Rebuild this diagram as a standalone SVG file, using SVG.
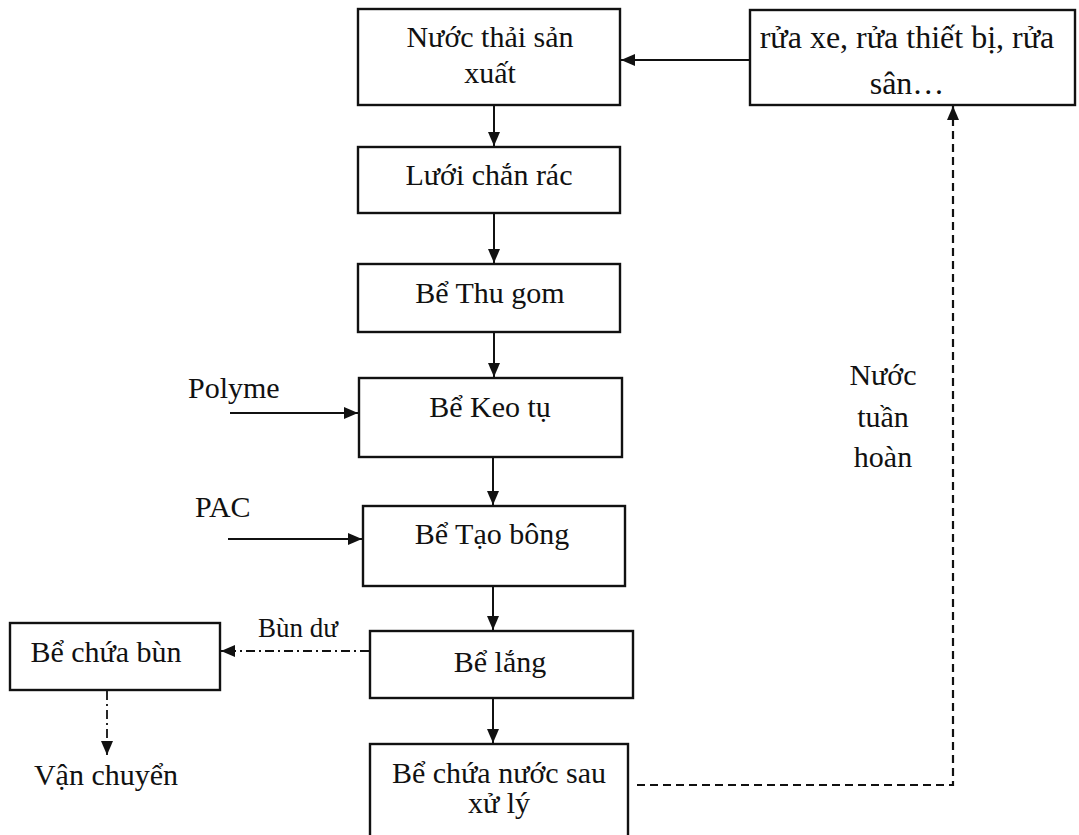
<svg xmlns="http://www.w3.org/2000/svg" width="1079" height="835" viewBox="0 0 1079 835">
<style>
.box{fill:#fff;stroke:#111;stroke-width:2.4}
.t{font-family:"Liberation Serif","Times New Roman",serif;font-size:30px;fill:#111;text-anchor:middle}
.tl{font-family:"Liberation Serif","Times New Roman",serif;font-size:30px;fill:#111}
.ln{fill:none;stroke:#111;stroke-width:2}
.dash{fill:none;stroke:#111;stroke-width:2.2;stroke-dasharray:8 5}
.dashdot{fill:none;stroke:#111;stroke-width:1.8;stroke-dasharray:9 4 2 4}
</style>
<defs>
<marker id="ah" viewBox="0 0 14 12" refX="14" refY="6" markerWidth="14" markerHeight="12" markerUnits="userSpaceOnUse" orient="auto">
<path d="M0,0 L14,6 L0,12 Z" fill="#111"/>
</marker>
</defs>
<rect width="1079" height="835" fill="#fff"/>

<g id="n1"><rect class="box" x="358" y="9" width="262" height="96"/><text class="t" x="490" y="47">Nước thải sản</text><text class="t" x="490" y="83">xuất</text></g>
<g id="n-rua"><rect class="box" x="750" y="10" width="325" height="95"/><text class="t" x="907" y="48" style="font-size:32px">rửa xe, rửa thiết bị, rửa</text><text class="t" x="907" y="94" style="font-size:32px">sân…</text></g>
<g id="n2"><rect class="box" x="358" y="147" width="262" height="66"/><text class="t" x="489" y="185">Lưới chắn rác</text></g>
<g id="n3"><rect class="box" x="358" y="264" width="262" height="68"/><text class="t" x="490" y="303">Bể Thu gom</text></g>
<g id="n4"><rect class="box" x="359" y="378" width="263" height="79"/><text class="t" x="490" y="417">Bể Keo tụ</text></g>
<g id="n5"><rect class="box" x="363" y="506" width="262" height="80"/><text class="t" x="492" y="544">Bể Tạo bông</text></g>
<g id="n6"><rect class="box" x="370" y="631" width="263" height="67"/><text class="t" x="500" y="672">Bể lắng</text></g>
<g id="n7"><rect class="box" x="370" y="744" width="258" height="100"/><text class="t" x="499" y="783">Bể chứa nước sau</text><text class="t" x="499" y="813">xử lý</text></g>
<g id="n-bun"><rect class="box" x="10" y="623" width="210" height="67"/><text class="t" x="106" y="662">Bể chứa bùn</text></g>
<g id="n-vc"><text class="t" x="106" y="785">Vận chuyển</text></g>
<g id="n-polyme"><text class="tl" x="188" y="398">Polyme</text></g>
<g id="n-pac"><text class="tl" x="195" y="517">PAC</text></g>

<g id="connectors">
<line class="ln" x1="750" y1="60" x2="621" y2="60" marker-end="url(#ah)"/>
<line class="ln" x1="494" y1="105" x2="494" y2="146" marker-end="url(#ah)"/>
<line class="ln" x1="494" y1="213" x2="494" y2="263" marker-end="url(#ah)"/>
<line class="ln" x1="494" y1="332" x2="494" y2="377" marker-end="url(#ah)"/>
<line class="ln" x1="493" y1="457" x2="493" y2="505" marker-end="url(#ah)"/>
<line class="ln" x1="493" y1="586" x2="493" y2="630" marker-end="url(#ah)"/>
<line class="ln" x1="493" y1="698" x2="493" y2="743" marker-end="url(#ah)"/>
<line class="ln" x1="230" y1="413" x2="358" y2="413" marker-end="url(#ah)"/>
<line class="ln" x1="228" y1="539" x2="362" y2="539" marker-end="url(#ah)"/>
<line class="dashdot" x1="369" y1="651" x2="221" y2="651" marker-end="url(#ah)"/>
<text class="tl" x="258" y="637" style="font-size:27px">Bùn dư</text>
<line class="dashdot" x1="107" y1="691" x2="107" y2="755" marker-end="url(#ah)"/>
<polyline class="dash" points="637,785 953,785 953,106" marker-end="url(#ah)"/>
<text class="t" x="883" y="385">Nước</text>
<text class="t" x="883" y="427">tuần</text>
<text class="t" x="883" y="467">hoàn</text>
</g>
</svg>
